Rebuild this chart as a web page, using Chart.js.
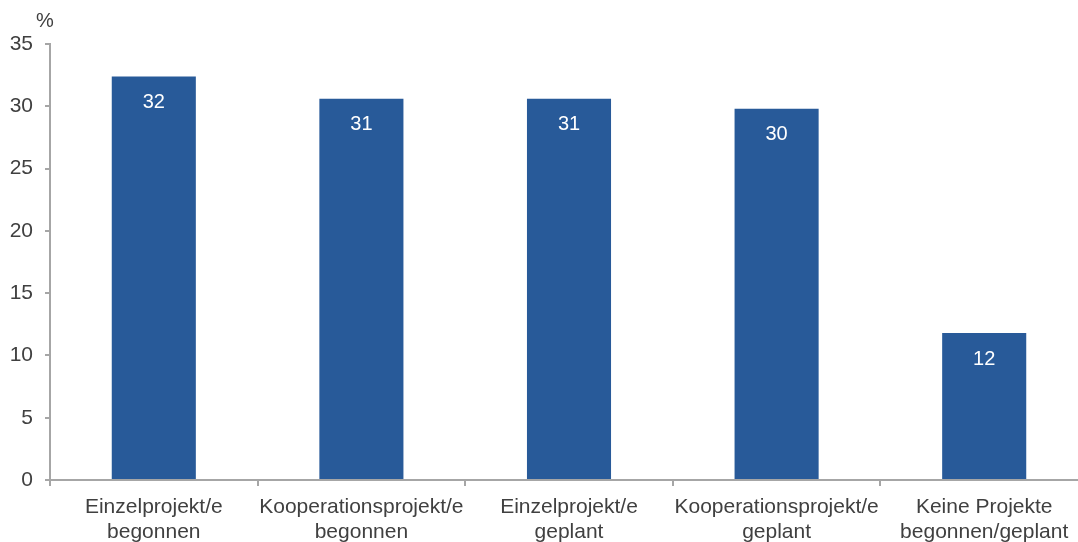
<!DOCTYPE html>
<html>
<head>
<meta charset="utf-8">
<script src="https://cdn.jsdelivr.net/npm/chart.js@4"></script>
<style>
  html, body { margin: 0; padding: 0; background: #fff; overflow: hidden; }
  #wrap { width: 1078px; height: 542px; overflow: hidden; }
</style>
</head>
<body>
<div id="wrap"><canvas id="myChart" width="1088" height="542"></canvas></div>
<script>
const categories = [
  ["Einzelprojekt/e", "begonnen"],
  ["Kooperationsprojekt/e", "begonnen"],
  ["Einzelprojekt/e", "geplant"],
  ["Kooperationsprojekt/e", "geplant"],
  ["Keine Projekte", "begonnen/geplant"],
];
const shares = [32.4, 30.6, 30.6, 29.8, 11.8];
const yTicks = [0, 5, 10, 15, 20, 25, 30, 35];

const fontFamily = "'Liberation Sans', Arial, sans-serif";
const textColor = "#404040";
const axisColor = "#a6a6a6";
const barColor = "#285a99";

// white value labels inside the top of each bar, plus the "%" unit
const barLabels = {
  id: "barLabels",
  afterDatasetsDraw(chart) {
    const ctx = chart.ctx;
    const meta = chart.getDatasetMeta(0);
    ctx.save();
    ctx.font = "20px " + fontFamily;
    ctx.fillStyle = "#ffffff";
    ctx.textAlign = "center";
    ctx.textBaseline = "middle";
    meta.data.forEach((bar, i) => {
      ctx.fillText(String(Math.round(shares[i])), bar.x, bar.y + 26);
    });
    ctx.fillStyle = textColor;
    ctx.fillText("%", chart.chartArea.left - 5, 21);
    ctx.restore();
  },
};

const ctx = document.getElementById("myChart").getContext("2d");
const myChart = new Chart(ctx, {
  type: "bar",
  data: {
    labels: categories,
    datasets: [
      {
        data: shares,
        backgroundColor: barColor,
        borderWidth: 0,
        categoryPercentage: 1,
        barPercentage: 0.405,
      },
    ],
  },
  options: {
    responsive: false,
    animation: false,
    layout: { padding: { top: 44, right: 0, left: 0, bottom: 0 } },
    plugins: {
      legend: { display: false },
      tooltip: { enabled: false },
    },
    scales: {
      x: {
        offset: true,
        border: { color: axisColor, width: 2 },
        grid: {
          offset: true,
          drawOnChartArea: false,
          color: axisColor,
          lineWidth: 2,
          tickLength: 6,
        },
        ticks: {
          color: textColor,
          font: { family: fontFamily, size: 21, lineHeight: 1.17 },
          padding: 9,
          maxRotation: 0,
          autoSkip: false,
        },
        afterFit(axis) {
          axis.height = 62;
        },
      },
      y: {
        min: 0,
        max: 35,
        afterBuildTicks(axis) {
          axis.ticks = yTicks.map((v) => ({ value: v }));
        },
        border: { color: axisColor, width: 2 },
        grid: {
          drawOnChartArea: false,
          color: axisColor,
          lineWidth: 2,
          tickLength: 5,
        },
        ticks: {
          color: textColor,
          font: { family: fontFamily, size: 21 },
          padding: 12,
        },
        afterFit(axis) {
          axis.width = 50;
        },
      },
    },
  },
  plugins: [barLabels],
});
</script>
</body>
</html>
